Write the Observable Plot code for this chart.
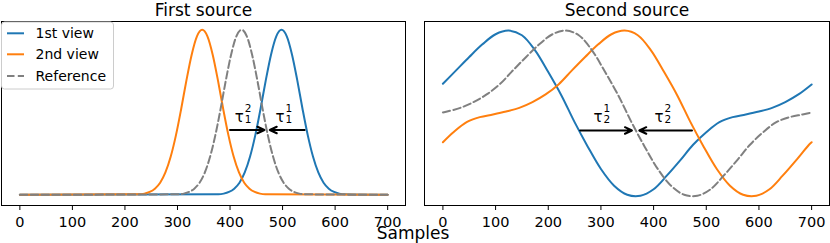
<!DOCTYPE html>
<html><head><meta charset="utf-8">
<script src="https://cdn.jsdelivr.net/npm/d3@7"></script>
<script src="https://cdn.jsdelivr.net/npm/@observablehq/plot@0.6"></script>
<style>
body{margin:0;background:#fff;}
#wrap{position:relative;width:830px;height:243px;overflow:hidden;font-family:"DejaVu Sans";}
#wrap svg{position:absolute;top:0;}
</style></head><body><div id="wrap"></div>
<script>
const titles = ["First source", "Second source"];
const seriesNames = ["1st view", "2nd view", "Reference"];
const colors = ["#1f77b4", "#ff7f0e", "#808080"];
const xTicks = [0, 100, 200, 300, 400, 500, 600, 700];
const xLabel = "Samples";

// ---- First source ----
const p1BlueX = [0, 378, 388, 398, 408, 418, 428, 438, 448, 458, 468, 478, 488, 498, 508, 518, 528, 538, 548, 558, 568, 578, 588, 598, 608, 618, 700];
const p1BlueY = [0, 0.003, 0.007, 0.017, 0.037, 0.073, 0.135, 0.230, 0.360, 0.520, 0.693, 0.849, 0.960, 1.000, 0.960, 0.849, 0.693, 0.520, 0.360, 0.230, 0.135, 0.073, 0.037, 0.017, 0.007, 0.003, 0];
const p1OrangeX = [0, 227, 237, 247, 257, 267, 277, 287, 297, 307, 317, 327, 337, 347, 357, 367, 377, 387, 397, 407, 417, 427, 437, 447, 457, 467, 700];
const p1OrangeY = [0, 0.003, 0.007, 0.017, 0.037, 0.073, 0.135, 0.230, 0.360, 0.520, 0.693, 0.849, 0.960, 1.000, 0.960, 0.849, 0.693, 0.520, 0.360, 0.230, 0.135, 0.073, 0.037, 0.017, 0.007, 0.003, 0];
const p1GrayX = [0, 302, 312, 322, 332, 342, 352, 362, 372, 382, 392, 402, 412, 422, 432, 442, 452, 462, 472, 482, 492, 502, 512, 522, 532, 542, 700];
const p1GrayY = [0, 0.003, 0.007, 0.017, 0.037, 0.073, 0.135, 0.230, 0.360, 0.520, 0.693, 0.849, 0.960, 1.000, 0.960, 0.849, 0.693, 0.520, 0.360, 0.230, 0.135, 0.073, 0.037, 0.017, 0.007, 0.003, 0];
const p1ArrowX1 = [400, 542];
const p1ArrowX2 = [465.5, 475.6];
const p1ArrowY = [0.3925, 0.3925];
const p1LabelX = [408.8, 486.5];
const p1LabelY = [0.441, 0.441];
const p1Sub = ["1", "1"];
const p1Sup = ["2", "1"];

// ---- Second source ----
const p2BlueX = [0, 25, 50, 75, 100, 125, 150, 175, 200, 225, 250, 275, 300, 325, 350, 375, 400, 425, 450, 475, 500, 525, 550, 575, 600, 625, 650, 675, 700];
const p2BlueY = [0.357, 0.518, 0.679, 0.831, 0.952, 0.996, 0.94, 0.759, 0.498, 0.217, -0.104, -0.398, -0.667, -0.867, -0.976, -0.988, -0.91, -0.747, -0.566, -0.375, -0.225, -0.104, -0.044, -0.012, 0.024, 0.068, 0.137, 0.229, 0.349];
const p2OrangeX = [0, 20, 45, 70, 95, 120, 145, 170, 195, 220, 245, 270, 295, 320, 345, 370, 395, 420, 445, 470, 495, 520, 545, 570, 595, 620, 645, 670, 695, 700];
const p2OrangeY = [-0.345, -0.225, -0.104, -0.044, -0.012, 0.024, 0.068, 0.137, 0.229, 0.352, 0.518, 0.679, 0.831, 0.952, 0.996, 0.94, 0.759, 0.498, 0.217, -0.104, -0.398, -0.667, -0.867, -0.976, -0.988, -0.91, -0.747, -0.566, -0.375, -0.345];
const p2GrayX = [0, 8, 33, 58, 83, 108, 133, 158, 183, 208, 233, 258, 283, 308, 333, 358, 383, 408, 433, 458, 483, 508, 533, 558, 583, 608, 633, 658, 683, 700];
const p2GrayY = [0.013, 0.024, 0.068, 0.137, 0.229, 0.352, 0.518, 0.679, 0.831, 0.952, 0.996, 0.94, 0.759, 0.498, 0.217, -0.104, -0.398, -0.667, -0.867, -0.976, -0.988, -0.91, -0.747, -0.566, -0.375, -0.225, -0.104, -0.044, -0.012, 0.012];
const p2ArrowX1 = [260.6, 472.9];
const p2ArrowX2 = [358.9, 372.8];
const p2ArrowY = [-0.204, -0.204];
const p2LabelX = [285.9, 401.8];
const p2LabelY = [-0.102, -0.102];
const p2Sub = ["2", "2"];
const p2Sup = ["1", "2"];

const zip = (xs, ys) => xs.map((x, i) => ({x, y: ys[i]}));

function panel(cfg) {
  const arrows = cfg.ax1.map((x1, i) => ({x1, x2: cfg.ax2[i], y: cfg.ay[i]}));
  const labels = cfg.lx.map((x, i) => ({x, y: cfg.ly[i], sub: cfg.sub[i], sup: cfg.sup[i]}));
  return Plot.plot({
    width: 415, height: 243,
    marginLeft: cfg.ml, marginRight: cfg.mr, marginTop: 21, marginBottom: 38,
    x: {domain: [-34.95, 733.95], axis: null},
    y: {domain: cfg.yDomain, axis: null},
    style: {fontFamily: "DejaVu Sans", fontSize: "14.5px", overflow: "visible", background: "transparent", color: "black"},
    marks: [
      Plot.line(zip(cfg.bx, cfg.by), {x: "x", y: "y", stroke: colors[0], strokeWidth: 2, curve: cfg.curve}),
      Plot.line(zip(cfg.ox, cfg.oy), {x: "x", y: "y", stroke: colors[1], strokeWidth: 2, curve: cfg.curve}),
      Plot.line(zip(cfg.gx, cfg.gy), {x: "x", y: "y", stroke: colors[2], strokeWidth: 2, curve: cfg.curve, strokeDasharray: "7.5,3.3"}),
      Plot.arrow(arrows, {x1: "x1", x2: "x2", y1: "y", y2: "y", bend: 0, headAngle: 50, headLength: 5.8, stroke: "black", strokeWidth: 2}),
      Plot.text(labels, {x: "x", y: "y", text: () => "τ", textAnchor: "start", lineAnchor: "bottom", fontSize: 15, fill: "black"}),
      Plot.text(labels, {x: "x", y: "y", text: "sub", textAnchor: "start", lineAnchor: "bottom", fontSize: 10.5, dx: 10, dy: 1, fill: "black"}),
      Plot.text(labels, {x: "x", y: "y", text: "sup", textAnchor: "start", lineAnchor: "bottom", fontSize: 10.5, dx: 10, dy: -9.5, fill: "black"}),
      Plot.frame({stroke: "black", strokeWidth: 1}),
      Plot.axisX({ticks: xTicks, tickSize: 5, tickPadding: 6, fontSize: 14.5, tickFormat: d => String(d), stroke: "black", fill: "black"}),
      Plot.text([cfg.title], {text: d => d, frameAnchor: "top", dy: -6, lineAnchor: "bottom", fontSize: 17, fill: "black"})
    ]
  });
}

const wrap = document.getElementById("wrap");
const left = panel({
  title: titles[0], ml: 1, mr: 10, yDomain: [-0.065, 1.05], curve: "monotone-x",
  bx: p1BlueX, by: p1BlueY, ox: p1OrangeX, oy: p1OrangeY, gx: p1GrayX, gy: p1GrayY,
  ax1: p1ArrowX1, ax2: p1ArrowX2, ay: p1ArrowY, lx: p1LabelX, ly: p1LabelY, sub: p1Sub, sup: p1Sup
});
left.style.left = "0px";
wrap.appendChild(left);
const right = panel({
  title: titles[1], ml: 9, mr: 1, yDomain: [-1.105, 1.105], curve: "catmull-rom",
  bx: p2BlueX, by: p2BlueY, ox: p2OrangeX, oy: p2OrangeY, gx: p2GrayX, gy: p2GrayY,
  ax1: p2ArrowX1, ax2: p2ArrowX2, ay: p2ArrowY, lx: p2LabelX, ly: p2LabelY, sub: p2Sub, sup: p2Sup
});
right.style.left = "415px";
wrap.appendChild(right);

// overlay: legend + shared x label
const ov = d3.select(wrap).append("svg")
  .attr("width", 830).attr("height", 243)
  .style("left", "0px").style("pointer-events", "none")
  .attr("font-family", "DejaVu Sans");
const lg = ov.append("g");
lg.append("rect").attr("x", 1.5).attr("y", 22).attr("width", 112).attr("height", 67).attr("rx", 3)
  .attr("fill", "white").attr("fill-opacity", 0.8).attr("stroke", "#cccccc").attr("stroke-width", 1);
const rowY = [33.3, 54.3, 76];
seriesNames.forEach((name, i) => {
  lg.append("line").attr("x1", 7).attr("x2", 24).attr("y1", rowY[i]).attr("y2", rowY[i])
    .attr("stroke", colors[i]).attr("stroke-width", 2)
    .attr("stroke-dasharray", i === 2 ? "7.5,3.3" : null);
  lg.append("text").attr("x", 35.5).attr("y", rowY[i] + 5).attr("font-size", 14).attr("fill", "black").text(name);
});
ov.append("text").attr("x", 413).attr("y", 239).attr("text-anchor", "middle").attr("font-size", 17).attr("fill", "black").text(xLabel);
</script></body></html>
